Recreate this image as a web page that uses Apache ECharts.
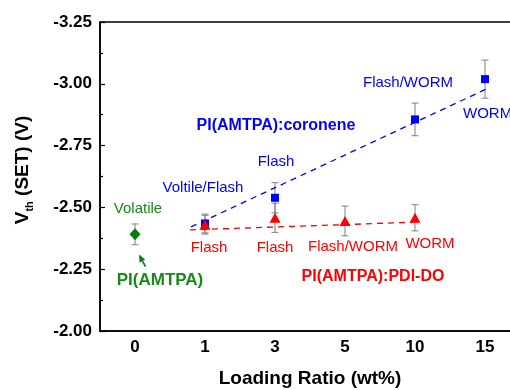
<!DOCTYPE html>
<html>
<head>
<meta charset="utf-8">
<script src="https://cdn.jsdelivr.net/npm/echarts@6/dist/echarts.min.js"></script>
<style>
  html, body { margin: 0; padding: 0; background: #fff; }
  #chart { width: 510px; height: 390px; }
</style>
</head>
<body>
<div id="chart"></div>
<script>
// Loading ratios (wt%) shown on the x axis
const loadingRatios = ['0', '1', '3', '5', '10', '15'];

// Threshold (SET) voltage in volts and its spread, per loading ratio index
const pristineIdx = [0];
const pristineVth = [-2.391];
const pristineErr = [0.042];

const coroneneIdx = [1, 2, 4, 5];
const coroneneVth = [-2.435, -2.539, -2.856, -3.019];
const coroneneErr = [0.038, 0.061, 0.066, 0.077];

const pdiIdx = [1, 2, 3, 4];
const pdiVth = [-2.43, -2.458, -2.445, -2.458];
const pdiErr = [0.038, 0.059, 0.06, 0.053];

// Linear trend lines (x in category index units)
const coroneneFitX = [0.8, 5.02];
const coroneneFitY = [-2.421, -2.979];
const pdiFitX = [0.786, 3.97];
const pdiFitY = [-2.409, -2.44];

// Y axis range / ticks
const yMin = -3.25, yMax = -2.00, yStep = 0.25;

const FONT = 'Liberation Sans, Arial, Helvetica, sans-serif';
const BLUE = '#0000ff', RED = '#ff0000', GREEN = '#0a7d0a', GREEN_TXT = '#178a17';

const pts = (xs, ys) => xs.map((x, i) => [x, ys[i]]);
const errPts = (xs, ys, es) => xs.map((x, i) => [x, ys[i], es[i]]);

function errorBarSeries(data) {
  return {
    type: 'custom',
    xAxisIndex: 0,
    z: 1,
    silent: true,
    renderItem: function (params, api) {
      const x = api.value(0), v = api.value(1), e = api.value(2);
      const hi = api.coord([x, v - e]);
      const lo = api.coord([x, v + e]);
      const cap = 3.5;
      const st = { stroke: '#808080', lineWidth: 1 };
      return {
        type: 'group',
        children: [
          { type: 'line', shape: { x1: hi[0], y1: hi[1], x2: lo[0], y2: lo[1] }, style: st },
          { type: 'line', shape: { x1: hi[0] - cap, y1: hi[1], x2: hi[0] + cap, y2: hi[1] }, style: st },
          { type: 'line', shape: { x1: lo[0] - cap, y1: lo[1], x2: lo[0] + cap, y2: lo[1] }, style: st }
        ]
      };
    },
    data: data
  };
}

function note(text, x, y, color, size, bold, align) {
  return {
    type: 'text', x: x, y: y, z: 10,
    style: {
      text: text, fill: color, font: (bold ? 'bold ' : '') + size + 'px ' + FONT,
      align: align || 'center', verticalAlign: 'middle'
    }
  };
}

const chart = echarts.init(document.getElementById('chart'), null, { renderer: 'canvas' });

chart.setOption({
  animation: false,
  backgroundColor: '#fff',
  grid: {
    left: 100, top: 22, right: -10, bottom: 59,
    show: true, borderColor: '#000', borderWidth: 1.5,
    containLabel: false, outerBoundsMode: 'none'
  },
  xAxis: [{
    type: 'category',
    data: loadingRatios,
    boundaryGap: true,
    axisLine: { onZero: false, lineStyle: { color: '#000', width: 1.5 } },
    axisTick: { inside: true, length: 5, alignWithLabel: true, lineStyle: { color: '#000', width: 1.2 } },
    axisLabel: { color: '#000', fontFamily: FONT, fontWeight: 'bold', fontSize: 17, margin: 8 },
    splitLine: { show: false },
    name: 'Loading Ratio (wt%)',
    nameLocation: 'middle',
    nameGap: 38,
    nameTextStyle: { color: '#000', fontFamily: FONT, fontWeight: 'bold', fontSize: 19 }
  }, {
    type: 'value',
    min: -0.5, max: 5.5,
    show: false
  }],
  yAxis: {
    type: 'value',
    inverse: true,
    min: yMin, max: yMax, interval: yStep,
    axisLine: { show: true, onZero: false, lineStyle: { color: '#000', width: 1.5 } },
    axisTick: { show: true, inside: true, length: 5, lineStyle: { color: '#000', width: 1.2 } },
    minorTick: { show: true, splitNumber: 2, length: 3, lineStyle: { color: '#000', width: 1.2 } },
    axisLabel: {
      color: '#000', fontFamily: FONT, fontWeight: 'bold', fontSize: 17, margin: 8,
      formatter: v => v.toFixed(2)
    },
    splitLine: { show: false }
  },
  series: [
    errorBarSeries(errPts(pristineIdx, pristineVth, pristineErr)),
    errorBarSeries(errPts(coroneneIdx, coroneneVth, coroneneErr)),
    errorBarSeries(errPts(pdiIdx, pdiVth, pdiErr)),
    {
      type: 'line', xAxisIndex: 1, z: 2, silent: true,
      data: pts(coroneneFitX, coroneneFitY), showSymbol: false,
      lineStyle: { color: BLUE, width: 1.3, type: [6, 5] }
    },
    {
      type: 'line', xAxisIndex: 1, z: 2, silent: true,
      data: pts(pdiFitX, pdiFitY), showSymbol: false,
      lineStyle: { color: RED, width: 1.3, type: [6, 5] }
    },
    {
      name: 'PI(AMTPA)', type: 'scatter', xAxisIndex: 0, z: 3,
      symbol: 'diamond', symbolSize: [11, 12],
      itemStyle: { color: GREEN, opacity: 1 },
      data: pts(pristineIdx, pristineVth)
    },
    {
      name: 'PI(AMTPA):coronene', type: 'scatter', xAxisIndex: 0, z: 3,
      symbol: 'rect', symbolSize: 8,
      itemStyle: { color: BLUE, opacity: 1 },
      data: pts(coroneneIdx, coroneneVth)
    },
    {
      name: 'PI(AMTPA):PDI-DO', type: 'scatter', xAxisIndex: 0, z: 4,
      symbol: 'triangle', symbolSize: [11, 10],
      itemStyle: { color: RED, opacity: 1 },
      data: pts(pdiIdx, pdiVth)
    }
  ],
  graphic: [
    // y axis title: V_th (SET) (V)
    {
      type: 'text', x: 23, y: 170, rotation: Math.PI / 2, z: 10,
      style: {
        text: '{v|V}{s|th}{t| (SET) (V)}',
        align: 'center', verticalAlign: 'middle',
        rich: {
          v: { font: 'bold 19px ' + FONT, fill: '#000', lineHeight: 24 },
          s: { font: 'bold 11px ' + FONT, fill: '#000', lineHeight: 14, verticalAlign: 'bottom' },
          t: { font: 'bold 19px ' + FONT, fill: '#000', lineHeight: 24 }
        }
      }
    },
    // device behaviour notes
    note('Volatile', 138, 209, GREEN_TXT, 15, false),
    note('PI(AMTPA)', 160, 280, GREEN_TXT, 17, true),
    note('Voltile/Flash', 203, 188, BLUE, 15, false),
    note('Flash', 276, 162, BLUE, 15, false),
    note('Flash/WORM', 408, 83, BLUE, 15, false),
    note('WORM', 463, 114, BLUE, 15, false, 'left'),
    note('PI(AMTPA):coronene', 276, 126, BLUE, 16, true),
    note('Flash', 209, 248, RED, 15, false),
    note('Flash', 275, 248, RED, 15, false),
    note('Flash/WORM', 353, 247, RED, 15, false),
    note('WORM', 430, 244, RED, 15, false),
    note('PI(AMTPA):PDI-DO', 373, 277, RED, 16, true),
    // small arrow pointing at the pristine polymer point
    {
      type: 'line', z: 10,
      shape: { x1: 145.5, y1: 266.5, x2: 142.4, y2: 261.1 },
      style: { stroke: GREEN, lineWidth: 1.6 }
    },
    {
      type: 'polygon', z: 10,
      shape: { points: [[139, 254.5], [145.2, 259.4], [139.6, 262.8]] },
      style: { fill: GREEN }
    }
  ]
});
</script>
</body>
</html>
